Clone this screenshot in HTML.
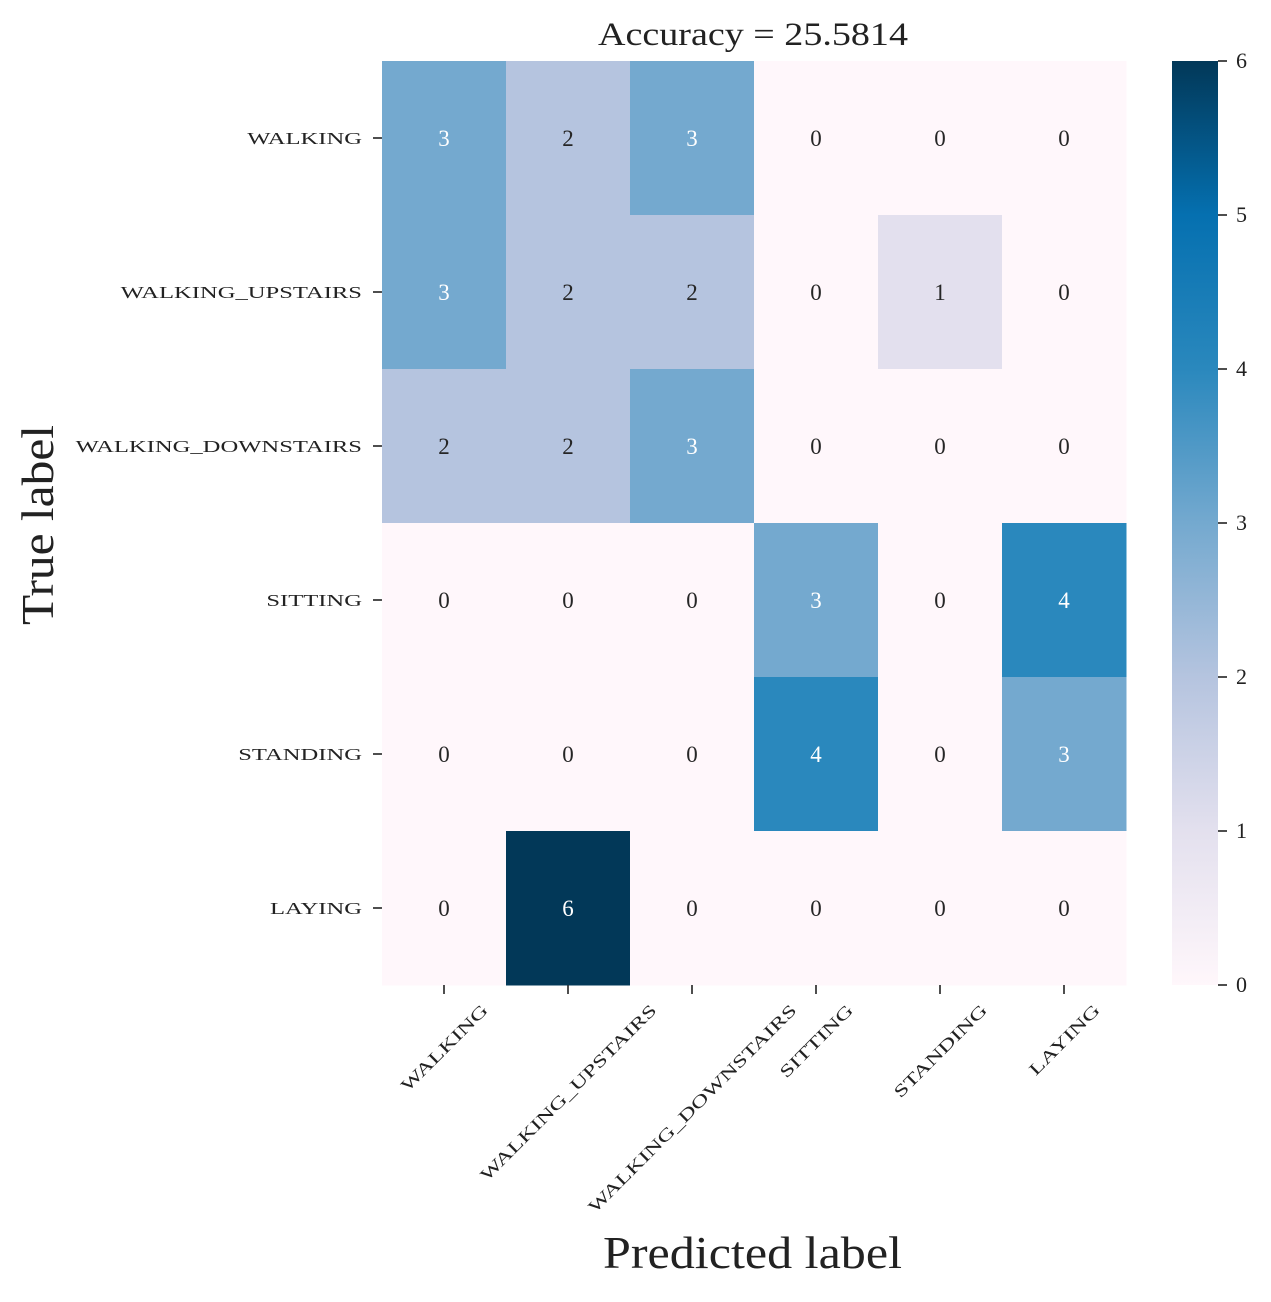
<!DOCTYPE html>
<html><head><meta charset="utf-8"><style>
body{margin:0;background:#fff}
svg text{font-family:"Liberation Serif","DejaVu Serif",serif;fill:#222}
</style></head><body>
<svg id="chart" width="1271" height="1297" viewBox="0 0 1271 1297" xmlns="http://www.w3.org/2000/svg">
<defs><linearGradient id="cbg" x1="0" y1="1" x2="0" y2="0">
<stop offset="0" stop-color="#fff7fb"/><stop offset="0.167" stop-color="#e3e0ee"/><stop offset="0.333" stop-color="#b5c4df"/><stop offset="0.5" stop-color="#74a9cf"/><stop offset="0.667" stop-color="#2a88bd"/><stop offset="0.833" stop-color="#0570b0"/><stop offset="1" stop-color="#023858"/></linearGradient></defs>
<g id="cells"></g>
<rect x="1172" y="61" width="46" height="924" fill="url(#cbg)"/>
<g id="axes"></g>
<text x="598" y="45" font-size="33" textLength="310" lengthAdjust="spacingAndGlyphs">Accuracy = 25.5814</text>
<text x="603" y="1268" font-size="46" textLength="299" lengthAdjust="spacingAndGlyphs">Predicted label</text>
<text x="0" y="0" font-size="46" textLength="200" lengthAdjust="spacingAndGlyphs" transform="translate(53,625) rotate(-90)">True label</text>
</svg>
<script>
const labels=["WALKING","WALKING_UPSTAIRS","WALKING_DOWNSTAIRS","SITTING","STANDING","LAYING"];
const matrix=[[3,2,3,0,0,0],[3,2,2,0,1,0],[2,2,3,0,0,0],[0,0,0,3,0,4],[0,0,0,4,0,3],[0,6,0,0,0,0]];
const cbTicks=[0,1,2,3,4,5,6];
const palette=["#fff7fb","#e3e0ee","#b5c4df","#74a9cf","#2a88bd","#0570b0","#023858"];
const NS="http://www.w3.org/2000/svg";
const X0=382,X1=1126,Y0=61,Y1=985,n=labels.length,cw=(X1-X0)/n,ch=(Y1-Y0)/n;
const vmax=6;
function xs(i){return X0+i*cw;}function ys(i){return Y0+i*ch;}
function cy(v){return Y1-(v/vmax)*(Y1-Y0);}
function mk(t,a,p){const e=document.createElementNS(NS,t);for(const k in a)e.setAttribute(k,a[k]);(p||document.getElementById('axes')).appendChild(e);return e;}
const cells=document.getElementById('cells');
matrix.forEach((row,r)=>row.forEach((v,c)=>{
 const rc=mk('rect',{x:xs(c),y:ys(r),width:cw+0.5,height:ch+0.5,fill:palette[v]},cells);
 
 
 const t=mk('text',{x:xs(c)+cw/2,y:ys(r)+ch/2+8,'font-size':23,'text-anchor':'middle'},cells);
 
 
 t.style.fill=v>=3?'#fff':'#262626';t.textContent=v;
}));
const SC=1.64;
labels.forEach((l,i)=>{
 const y=ys(i)+ch/2;
 const tk=mk('line',{x1:X0-9,x2:X0,y1:y,y2:y,stroke:'#222','stroke-width':1.6});
 
 
 const t=mk('text',{x:X0-20,y:y+6,'font-size':15,'text-anchor':'end'});
 
 
 t.textContent=l;
 const L=t.getComputedTextLength()*SC;
 t.setAttribute('font-size',17);
 t.setAttribute('textLength',L);
 t.setAttribute('lengthAdjust','spacingAndGlyphs');
 const x=xs(i)+cw/2;
 const tx=mk('line',{x1:x,x2:x,y1:Y1,y2:Y1+9,stroke:'#222','stroke-width':1.6});
 
 
 const t2=mk('text',{x:0,y:6,'font-size':17,'text-anchor':'middle'});
 
 
 t2.textContent=l;
 t2.setAttribute('textLength',L);
 t2.setAttribute('lengthAdjust','spacingAndGlyphs');
 const w=L*0.7071+10;
 t2.setAttribute('transform','translate('+x+','+(1002+w/2)+') rotate(-45)');
});
cbTicks.forEach(v=>{
 const y=cy(v);
 const tk=mk('line',{x1:1218,x2:1227,y1:y,y2:y,stroke:'#222','stroke-width':1.6});
 
 
 const t=mk('text',{x:1236,y:y+7,'font-size':22});
 
 
 t.textContent=v;
});
</script>
</body></html>
